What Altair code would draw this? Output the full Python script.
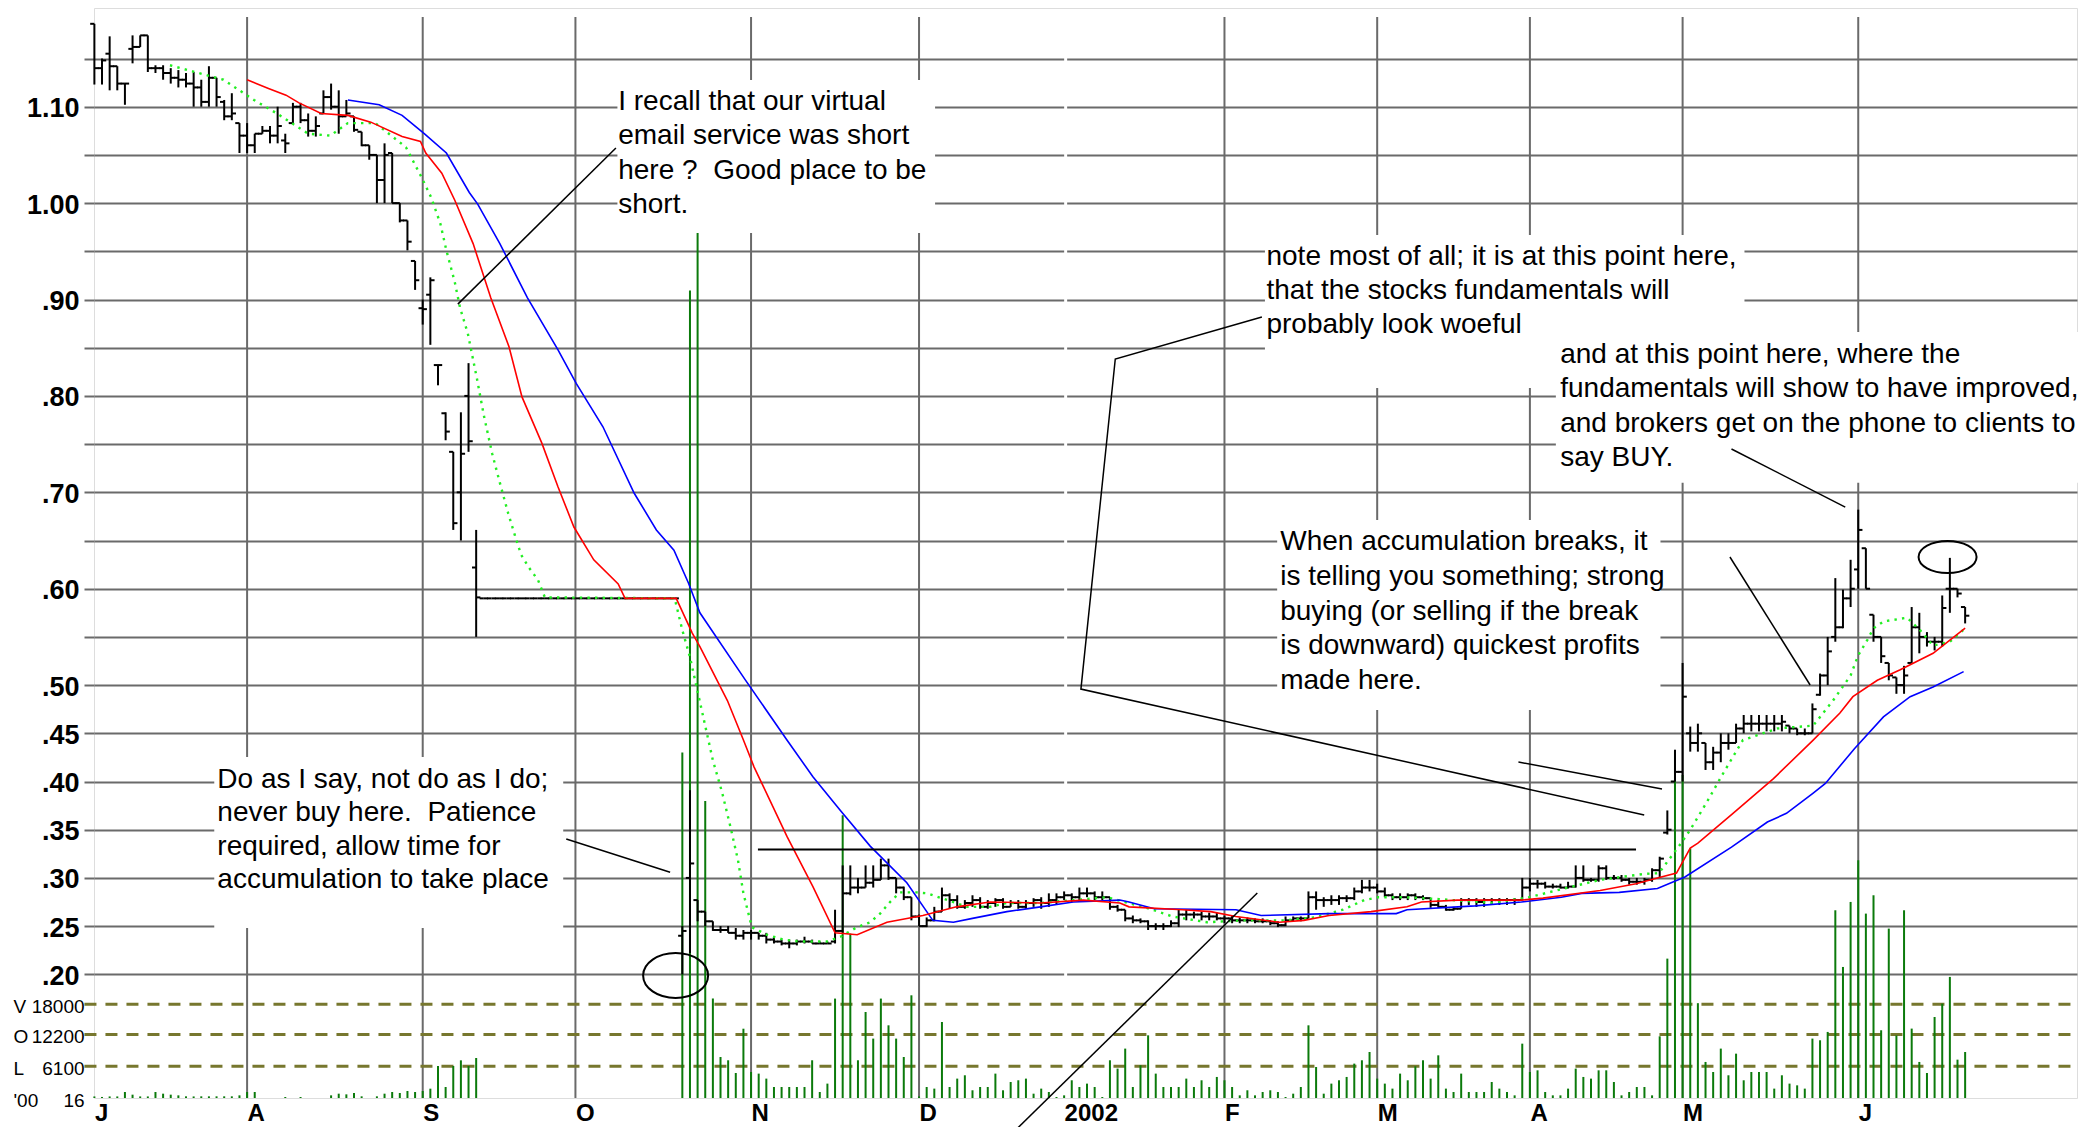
import altair as alt
import pandas as pd

FONT = "Liberation Sans"
GRID = "#6a6a6a"

# ---------------- data ----------------
# trading-day index 0 = first bar (early July 2001)
halted = [0.59, 0.59, 0.59, 0.59, 0.59, 0.59, 0.59, 0.59, 0.59, 0.59, 0.59, 0.59, 0.59,
          0.59, 0.59, 0.59, 0.59, 0.59, 0.59, 0.59, 0.59, 0.59, 0.59, 0.59, 0.59, 0.59]
halted_vol = [0, 0, 0, 0, 0, 0, 0, 0, 0, 0, 0, 0, 0, 0, 0, 0, 0, 0, 0, 0, 0, 0, 0, 0, 0, 0]

open_a = [1.186, 1.140, 1.155, 1.142, 1.124, 1.160, 1.162, 1.174, 1.140, 1.140,
          1.135, 1.130, 1.128, 1.124, 1.120, 1.105, 1.130, 1.105, 1.090, 1.083,
          1.070, 1.060, 1.072, 1.075, 1.070, 1.065, 1.083, 1.100, 1.086, 1.075,
          1.093, 1.110, 1.100, 1.090, 1.090, 1.074, 1.060, 1.050, 1.024, 1.052,
          1.000, 0.982, 0.940, 0.891, 0.905, 0.832, 0.782, 0.742, 0.700, 0.800,
          0.622]
open_b = [0.240, 0.300, 0.277, 0.265, 0.255, 0.246, 0.246, 0.243, 0.240, 0.243,
          0.243, 0.240, 0.236, 0.234, 0.232, 0.232, 0.234, 0.234, 0.232, 0.232,
          0.234, 0.245, 0.284, 0.290, 0.290, 0.295, 0.298, 0.313, 0.300, 0.290,
          0.280, 0.260, 0.250, 0.256, 0.265, 0.282, 0.277, 0.270, 0.274, 0.277,
          0.270, 0.274, 0.277, 0.270, 0.274, 0.270, 0.274, 0.277, 0.274, 0.277,
          0.280, 0.282, 0.280, 0.284, 0.284, 0.280, 0.280, 0.270, 0.267, 0.258,
          0.256, 0.255, 0.250, 0.250, 0.250, 0.253, 0.262, 0.262, 0.262, 0.260,
          0.260, 0.258, 0.258, 0.256, 0.256, 0.256, 0.255, 0.255, 0.253, 0.251,
          0.256, 0.258, 0.258, 0.280, 0.277, 0.277, 0.277, 0.279, 0.279, 0.286,
          0.290, 0.290, 0.286, 0.282, 0.280, 0.280, 0.282, 0.280, 0.279, 0.272,
          0.270, 0.267, 0.268, 0.277, 0.277, 0.275, 0.277, 0.277, 0.277, 0.277,
          0.277, 0.290, 0.294, 0.294, 0.291, 0.291, 0.290, 0.291, 0.300, 0.298,
          0.298, 0.310, 0.300, 0.300, 0.298, 0.296, 0.296, 0.298, 0.308, 0.347,
          0.400, 0.410, 0.450, 0.440, 0.440, 0.420, 0.430, 0.440, 0.440, 0.455,
          0.460, 0.460, 0.460, 0.460, 0.460, 0.458, 0.455, 0.450, 0.450, 0.490,
          0.510, 0.550, 0.560, 0.590, 0.620, 0.642, 0.573, 0.550, 0.523, 0.508,
          0.500, 0.523, 0.560, 0.550, 0.545, 0.545, 0.600, 0.600, 0.581]

high_a = [1.186, 1.150, 1.173, 1.142, 1.124, 1.174, 1.174, 1.174, 1.143, 1.143,
          1.140, 1.138, 1.135, 1.136, 1.128, 1.142, 1.130, 1.107, 1.114, 1.083,
          1.083, 1.072, 1.080, 1.080, 1.100, 1.072, 1.104, 1.104, 1.093, 1.090,
          1.117, 1.124, 1.117, 1.107, 1.090, 1.074, 1.060, 1.050, 1.062, 1.052,
          1.000, 0.982, 0.940, 0.900, 0.923, 0.832, 0.783, 0.742, 0.783, 0.834,
          0.661]
high_b = [0.250, 0.391, 0.277, 0.265, 0.255, 0.250, 0.250, 0.248, 0.246, 0.246,
          0.243, 0.243, 0.239, 0.236, 0.236, 0.236, 0.239, 0.236, 0.234, 0.234,
          0.267, 0.313, 0.313, 0.300, 0.313, 0.313, 0.320, 0.320, 0.300, 0.291,
          0.280, 0.262, 0.259, 0.270, 0.290, 0.284, 0.282, 0.277, 0.282, 0.280,
          0.277, 0.279, 0.279, 0.277, 0.277, 0.277, 0.279, 0.280, 0.284, 0.284,
          0.286, 0.284, 0.290, 0.290, 0.286, 0.286, 0.280, 0.272, 0.267, 0.261,
          0.258, 0.256, 0.253, 0.253, 0.256, 0.267, 0.267, 0.265, 0.265, 0.264,
          0.264, 0.261, 0.261, 0.259, 0.259, 0.258, 0.258, 0.256, 0.255, 0.260,
          0.260, 0.260, 0.286, 0.286, 0.280, 0.282, 0.282, 0.282, 0.290, 0.298,
          0.298, 0.294, 0.290, 0.284, 0.284, 0.284, 0.284, 0.282, 0.279, 0.277,
          0.272, 0.270, 0.279, 0.279, 0.279, 0.279, 0.279, 0.279, 0.279, 0.279,
          0.300, 0.300, 0.298, 0.296, 0.294, 0.294, 0.296, 0.313, 0.313, 0.300,
          0.313, 0.313, 0.303, 0.303, 0.300, 0.300, 0.300, 0.310, 0.322, 0.370,
          0.433, 0.523, 0.457, 0.460, 0.440, 0.436, 0.450, 0.450, 0.460, 0.469,
          0.469, 0.469, 0.469, 0.469, 0.469, 0.458, 0.455, 0.455, 0.481, 0.512,
          0.550, 0.611, 0.599, 0.630, 0.682, 0.642, 0.573, 0.550, 0.523, 0.508,
          0.520, 0.581, 0.575, 0.555, 0.550, 0.593, 0.632, 0.600, 0.581]

low_a = [1.123, 1.123, 1.117, 1.117, 1.102, 1.145, 1.162, 1.136, 1.135, 1.128,
         1.124, 1.120, 1.120, 1.100, 1.100, 1.100, 1.100, 1.086, 1.086, 1.052,
         1.052, 1.052, 1.072, 1.062, 1.062, 1.052, 1.083, 1.083, 1.069, 1.069,
         1.093, 1.097, 1.072, 1.090, 1.074, 1.059, 1.045, 1.000, 1.000, 1.000,
         0.980, 0.951, 0.910, 0.874, 0.853, 0.811, 0.754, 0.661, 0.650, 0.742,
         0.550]
low_b = [0.200, 0.222, 0.255, 0.250, 0.245, 0.243, 0.243, 0.236, 0.236, 0.236,
         0.236, 0.232, 0.232, 0.230, 0.227, 0.230, 0.232, 0.232, 0.232, 0.232,
         0.232, 0.243, 0.282, 0.284, 0.290, 0.290, 0.298, 0.298, 0.284, 0.277,
         0.256, 0.250, 0.249, 0.255, 0.265, 0.268, 0.268, 0.268, 0.270, 0.268,
         0.268, 0.270, 0.268, 0.270, 0.268, 0.268, 0.270, 0.268, 0.270, 0.272,
         0.277, 0.275, 0.277, 0.280, 0.277, 0.277, 0.267, 0.265, 0.255, 0.253,
         0.253, 0.246, 0.246, 0.246, 0.249, 0.249, 0.256, 0.258, 0.256, 0.256,
         0.256, 0.253, 0.253, 0.253, 0.253, 0.253, 0.253, 0.251, 0.249, 0.250,
         0.255, 0.255, 0.258, 0.267, 0.270, 0.272, 0.272, 0.275, 0.277, 0.284,
         0.286, 0.284, 0.280, 0.277, 0.277, 0.277, 0.277, 0.277, 0.269, 0.269,
         0.266, 0.266, 0.268, 0.272, 0.270, 0.270, 0.272, 0.272, 0.272, 0.272,
         0.277, 0.286, 0.289, 0.289, 0.289, 0.289, 0.289, 0.290, 0.296, 0.296,
         0.296, 0.298, 0.298, 0.296, 0.293, 0.293, 0.293, 0.296, 0.301, 0.345,
         0.400, 0.400, 0.431, 0.431, 0.412, 0.412, 0.420, 0.433, 0.440, 0.450,
         0.452, 0.452, 0.452, 0.452, 0.452, 0.450, 0.448, 0.448, 0.450, 0.489,
         0.500, 0.545, 0.559, 0.581, 0.600, 0.600, 0.545, 0.523, 0.505, 0.491,
         0.491, 0.523, 0.533, 0.540, 0.536, 0.540, 0.575, 0.591, 0.564]

close_a = [1.140, 1.148, 1.142, 1.124, 1.124, 1.162, 1.174, 1.140, 1.140, 1.135,
           1.130, 1.128, 1.124, 1.120, 1.105, 1.130, 1.110, 1.090, 1.093, 1.070,
           1.060, 1.072, 1.075, 1.070, 1.080, 1.062, 1.100, 1.086, 1.075, 1.080,
           1.110, 1.100, 1.090, 1.093, 1.076, 1.060, 1.050, 1.024, 1.050, 1.000,
           0.982, 0.960, 0.920, 0.890, 0.920, 0.832, 0.763, 0.668, 0.740, 0.753,
           0.591]
close_b = [0.245, 0.315, 0.265, 0.255, 0.246, 0.246, 0.243, 0.240, 0.243, 0.243,
           0.240, 0.236, 0.234, 0.232, 0.232, 0.234, 0.234, 0.232, 0.232, 0.232,
           0.245, 0.284, 0.290, 0.290, 0.295, 0.298, 0.313, 0.300, 0.290, 0.280,
           0.260, 0.250, 0.256, 0.265, 0.282, 0.277, 0.270, 0.274, 0.277, 0.270,
           0.274, 0.277, 0.270, 0.274, 0.270, 0.274, 0.277, 0.274, 0.277, 0.280,
           0.282, 0.280, 0.284, 0.284, 0.280, 0.280, 0.270, 0.267, 0.258, 0.256,
           0.255, 0.250, 0.250, 0.250, 0.253, 0.262, 0.262, 0.262, 0.260, 0.260,
           0.258, 0.258, 0.256, 0.256, 0.256, 0.255, 0.255, 0.253, 0.251, 0.256,
           0.258, 0.258, 0.280, 0.277, 0.277, 0.277, 0.279, 0.279, 0.286, 0.290,
           0.290, 0.286, 0.282, 0.280, 0.280, 0.282, 0.280, 0.279, 0.272, 0.270,
           0.267, 0.268, 0.277, 0.277, 0.275, 0.277, 0.277, 0.277, 0.277, 0.277,
           0.290, 0.294, 0.294, 0.291, 0.291, 0.290, 0.291, 0.300, 0.298, 0.298,
           0.310, 0.300, 0.300, 0.298, 0.296, 0.296, 0.298, 0.308, 0.320, 0.350,
           0.410, 0.488, 0.440, 0.450, 0.420, 0.430, 0.440, 0.440, 0.455, 0.460,
           0.460, 0.460, 0.460, 0.460, 0.462, 0.455, 0.450, 0.450, 0.475, 0.510,
           0.535, 0.560, 0.590, 0.600, 0.661, 0.600, 0.550, 0.530, 0.510, 0.500,
           0.510, 0.560, 0.550, 0.545, 0.545, 0.580, 0.600, 0.595, 0.572]

vol_a = [300, 200, 300, 300, 1150, 640, 300, 300, 1150, 830,
         640, 510, 320, 300, 320, 320, 320, 320, 320, 510,
         1150, 1150, 0, 0, 0, 190, 0, 190, 0, 0,
         0, 510, 830, 700, 960, 320, 0, 320, 830, 1150,
         960, 1340, 1150, 1340, 1790, 6140, 2110, 6140, 7230, 6140,
         7680]
vol_b = [66300, 155000, 166000, 57000, 19100, 7870, 7240, 4800, 13300, 4990,
         4680, 3720, 2110, 2110, 2110, 2110, 2110, 7240, 1150, 2760,
         19080, 54260, 31550, 7240, 16510, 11400, 19080, 13950, 11400, 7870,
         19710, 300, 2110, 1800, 14590, 2110, 3720, 4360, 1480, 2110,
         2110, 4680, 1480, 3070, 3400, 3720, 830, 1800, 1150, 190,
         510, 3400, 2110, 2760, 2110, 190, 7240, 5640, 9480, 2110,
         6280, 12030, 4680, 2110, 2110, 2110, 3720, 2110, 3400, 2110,
         4040, 3400, 2110, 510, 1480, 510, 1150, 1480, 1150, 190,
         830, 2110, 13950, 5950, 830, 2760, 3400, 4040, 6600, 7240,
         8830, 3720, 2760, 1800, 4680, 3400, 6080, 7240, 3720, 8190,
         1800, 1150, 4680, 1150, 1150, 1150, 3070, 1800, 1150, 510,
         10430, 4990, 5310, 1150, 510, 510, 1800, 5640, 4040, 3720,
         5310, 5310, 3070, 510, 1150, 2110, 2110, 510, 11840, 26750,
         66700, 62000, 47900, 18200, 6920, 4990, 9480, 4360, 8510, 3400,
         4990, 4990, 4990, 1800, 4360, 2760, 2430, 1800, 11400, 11080,
         12680, 36030, 25150, 37630, 45630, 35390, 38910, 13000, 32510, 12000,
         36030, 13320, 6920, 4800, 15550, 18100, 23240, 7360, 8830]

open_ = open_a + halted + open_b
high = high_a + halted + high_b
low = low_a + halted + low_b
close = close_a + halted + close_b
volume = vol_a + halted_vol + vol_b
days = list(range(len(close)))

red_day = [20, 22.8, 25.1, 26.8, 29.7, 33.2, 36.2, 40.3, 42.7, 43.4, 45.5, 47.2, 49.6, 51.9,
           54.3, 56.0, 58.6, 60.7, 62.8, 65.4, 68.6, 69.5, 76.2, 78.3, 79.3, 82.9, 85, 86.4,
           90.7, 94.1, 97, 99.9, 103.8, 108.5, 112.9, 117.3, 123.9, 129.5, 134.3, 135.5,
           142.5, 146.2, 149.5, 155.2, 158.4, 161.7, 167.2, 171.9, 173.8, 178.5, 186.9,
           189.7, 197.2, 201.9, 204.7, 207.2, 209, 210, 214.6, 219.9, 225.1, 228.6, 230.3,
           233.5, 236.5, 240.8, 245]
red_val = [1.128, 1.119, 1.112, 1.104, 1.093, 1.091, 1.084, 1.069, 1.064, 1.052, 1.031, 1.003,
           0.958, 0.902, 0.851, 0.799, 0.751, 0.706, 0.664, 0.630, 0.605, 0.590, 0.590, 0.554,
           0.540, 0.484, 0.443, 0.415, 0.343, 0.291, 0.243, 0.241, 0.254, 0.261, 0.270, 0.275,
           0.274, 0.277, 0.274, 0.270, 0.267, 0.265, 0.260, 0.254, 0.256, 0.261, 0.265, 0.270,
           0.275, 0.277, 0.277, 0.279, 0.287, 0.294, 0.300, 0.305, 0.331, 0.336, 0.367, 0.403,
           0.443, 0.471, 0.488, 0.505, 0.516, 0.533, 0.559]

blue_day = [33.2, 37.3, 40.3, 43.2, 46.1, 49.1, 50.2, 53.1, 56.7, 60.7, 63.1, 66.6, 70.7, 73.6,
            75.9, 77.8, 79.3, 85.2, 90.7, 94.1, 97.7, 101.6, 106.4, 109.8, 112.5, 115, 119.5,
            123.9, 128.2, 134.3, 135.5, 138.8, 149.5, 152.8, 161.7, 170.5, 171.9, 180.8, 186.9,
            192.1, 194.8, 199.7, 204.7, 208.3, 214.4, 219.1, 221.6, 225.1, 226.7, 230.5, 234.3,
            237.8, 240.8, 244.8]
blue_val = [1.107, 1.102, 1.091, 1.072, 1.052, 1.011, 0.999, 0.958, 0.902, 0.848, 0.813, 0.768,
            0.699, 0.661, 0.640, 0.606, 0.575, 0.506, 0.443, 0.405, 0.370, 0.333, 0.295, 0.256,
            0.254, 0.258, 0.265, 0.270, 0.275, 0.277, 0.275, 0.268, 0.267, 0.261, 0.263, 0.263,
            0.267, 0.271, 0.275, 0.280, 0.284, 0.285, 0.289, 0.301, 0.332, 0.358, 0.367, 0.388,
            0.398, 0.434, 0.467, 0.488, 0.498, 0.514]

green_day = [9.9, 16.9, 20.9, 23.9, 28, 30.9, 33.2, 36.8, 40.8, 42.9, 44.1, 45.3, 46.1, 47.2,
             47.9, 48.9, 50.1, 51, 52.1, 53.1, 54.2, 55.2, 55.9, 56.9, 58.1, 59, 76, 77, 78, 81,
             82.2, 83.3, 84.3, 85, 86.1, 88.1, 90.2, 92.4, 95.9, 97.7, 99.9, 101.6, 102.9, 104.2,
             105.5, 107.7, 109.1, 111.7, 114.3, 117.3, 119.5, 123.9, 128.2, 132.6, 138.2, 141.2,
             145.7, 150.5, 156, 159.8, 163.5, 166.3, 168.2, 171.5, 176.1, 183.2, 187.9, 192.5,
             197.2, 202.8, 204.9, 207.8, 209, 211.2, 213.2, 215.9, 220.4, 225.1, 227.7, 230, 231,
             232.2, 233, 234.3, 237.4, 239.1, 240.8, 243, 245]
green_val = [1.143, 1.128, 1.107, 1.093, 1.072, 1.070, 1.083, 1.083, 1.058, 1.026, 1.006, 0.979,
             0.951, 0.918, 0.891, 0.865, 0.818, 0.780, 0.740, 0.710, 0.678, 0.652, 0.635, 0.622,
             0.609, 0.591, 0.590, 0.557, 0.529, 0.422, 0.389, 0.353, 0.318, 0.284, 0.249, 0.241,
             0.236, 0.234, 0.234, 0.239, 0.249, 0.254, 0.263, 0.275, 0.285, 0.285, 0.284, 0.277,
             0.270, 0.270, 0.274, 0.274, 0.277, 0.280, 0.268, 0.260, 0.254, 0.256, 0.256, 0.259,
             0.267, 0.277, 0.280, 0.280, 0.278, 0.274, 0.280, 0.289, 0.298, 0.304, 0.305, 0.336,
             0.350, 0.379, 0.407, 0.443, 0.455, 0.458, 0.484, 0.510, 0.531, 0.547, 0.559, 0.566,
             0.570, 0.557, 0.541, 0.545, 0.559]

month_day = [0, 20, 43, 63, 86, 108, 127, 148, 168, 188, 208, 231]
month_label = ["J", "A", "S", "O", "N", "D", "2002", "F", "M", "A", "M", "J"]
grid_day = [20, 43, 63, 86, 108, 148, 168, 188, 208, 231]
price_ticks = [0.20, 0.25, 0.30, 0.35, 0.40, 0.45, 0.50, 0.55, 0.60, 0.65, 0.70, 0.75,
               0.80, 0.85, 0.90, 0.95, 1.00, 1.05, 1.10, 1.15]
price_labelled = ["1.10", "1.00", "0.90", "0.80", "0.70", "0.60", "0.50", "0.45",
                  "0.40", "0.35", "0.30", "0.25", "0.20"]
vol_levels = [18000, 12200, 6100, 16]
vol_letters = ["V", "O", "L", "'00"]
vol_numbers = ["18000", "12200", "6100", "16"]
vol_dash_levels = [6100, 12200, 18000]

NB = "\u00a0"
note1 = ["I recall that our virtual", "email service was short",
         "here ?" + NB + " Good place to be", "short."]
note2 = ["Do as I say, not do as I do;", "never buy here." + NB + " Patience",
         "required, allow time for", "accumulation to take place"]
note3 = ["note most of all; it is at this point here,", "that the stocks fundamentals will",
         "probably look woeful"]
note4 = ["and at this point here, where the", "fundamentals will show to have improved,",
         "and brokers get on the phone to clients to", "say BUY."]
note5 = ["When accumulation breaks, it", "is telling you something; strong",
         "buying (or selling if the break", "is downward) quickest profits", "made here."]

# ---------------- scales & axes ----------------
X = alt.Scale(domain=[-0.05, 259.65], nice=False, zero=False)
YP = alt.Scale(domain=[0.0717, 1.2024], nice=False, zero=False)
YV = alt.Scale(domain=[0, 209200], nice=False, zero=False)

ylabel_expr = ("indexof([" + ",".join("'%s'" % s for s in price_labelled) + "], format(datum.value, '.2f')) < 0 ? '' : "
               "(datum.value >= 1 ? format(datum.value, '.2f') : replace(format(datum.value, '.2f'), '0.', '.'))")
xlabel_expr = ("[" + ",".join("'%s'" % s for s in month_label) + "][indexof(["
               + ",".join(str(d) for d in month_day) + "], datum.value)]")

XAX = alt.Axis(values=month_day, labelExpr=xlabel_expr, ticks=False, domain=False, grid=False,
               labelAlign="left", labelBaseline="top", labelPadding=3, labelFont=FONT,
               labelFontSize=24, labelFontWeight="bold", labelColor="black", labelFlush=False,
               labelOverlap=False, title=None)
YAX = alt.Axis(values=price_ticks, labelExpr=ylabel_expr, grid=True, gridColor=GRID, gridWidth=2,
               ticks=True, tickColor=GRID, tickWidth=2, tickSize=10, domain=False, labelFont=FONT,
               labelFontSize=27, labelFontWeight="bold", labelColor="black", labelPadding=5,
               labelOffset=2, labelOverlap=False, labelFlush=False, title=None, orient="left")
YNONE = alt.Axis(labels=False, ticks=False, grid=False, domain=False, title=None, orient="left")


def xq(f):
    return alt.X(f, type="quantitative", scale=X, axis=XAX)


def xd(v):
    return alt.XDatum(v, type="quantitative", scale=X, axis=XAX)


def yb(f):
    return alt.Y(f, type="quantitative", scale=YP, axis=YAX)


def ybd(v):
    return alt.YDatum(v, type="quantitative", scale=YP, axis=YAX)


def yp(f):
    return alt.Y(f, type="quantitative", scale=YP, axis=YNONE)


def ypd(v):
    return alt.YDatum(v, type="quantitative", scale=YP, axis=YNONE)


def yv(f):
    return alt.Y(f, type="quantitative", scale=YV, axis=YNONE)


one = pd.DataFrame({"k": [0]})

# ---------------- back price layer: grid + axes ----------------
vgrid = alt.Chart(pd.DataFrame({"d": grid_day})).transform_calculate(
    top="1.193", bot="0.0717"
).mark_rule(color=GRID, strokeWidth=2).encode(x=xq("d"), y=yb("top"), y2="bot:Q")
jan_gap = alt.Chart(one).mark_rule(color="white", strokeWidth=3).encode(
    x=xd(127.2), y=ybd(1.16), y2=alt.datum(0.19))
price_back = alt.layer(vgrid, jan_gap)

# ---------------- volume layer ----------------
vol_df = pd.DataFrame({"d": days, "v": volume})
dashes = alt.Chart(pd.DataFrame({"v": vol_dash_levels})).mark_rule(
    color="#77772e", strokeWidth=3, strokeDash=[12, 9]).encode(
    x=xd(-1.3), x2=alt.datum(259.65), y=yv("v"))
vol_bars = alt.Chart(vol_df).transform_filter("datum.v > 0").mark_rule(
    color="#0b7a0b", strokeWidth=2).encode(x=xq("d"), y=yv("v"), y2=alt.datum(0))
vlab_df = pd.DataFrame({"v": vol_levels, "letter": vol_letters, "num": vol_numbers})
vlab_l = alt.Chart(vlab_df).mark_text(align="left", baseline="middle", font=FONT, fontSize=19,
                                       dy=3, color="black").encode(
    x=xd(-10.6), y=yv("v"), text="letter:N")
vlab_n = alt.Chart(vlab_df).mark_text(align="right", baseline="middle", font=FONT, fontSize=19,
                                       dy=3, color="black").encode(
    x=xd(-1.29), y=yv("v"), text="num:N")
vol_group = alt.layer(dashes, vol_bars, vlab_l, vlab_n)

# ---------------- front price layer ----------------
box_df = pd.DataFrame({
    "x1": [68.5, 15.7, 153.3, 191.4, 154.9],
    "x2": [110.1, 61.4, 216.1, 260.9, 205.1],
    "y1": [1.1277, 0.4254, 0.9669, 0.8664, 0.6713],
    "y2": [0.9690, 0.2480, 0.8082, 0.7098, 0.4742],
})
boxes = alt.Chart(box_df).mark_rect(color="white", opacity=1).encode(
    x=xq("x1"), x2="x2", y=yp("y1"), y2="y2")

pdf = pd.DataFrame({"d": days, "o": open_, "h": high, "l": low, "c": close})
base = alt.Chart(pdf)
hl = base.mark_rule(color="black", strokeWidth=2).encode(x=xq("d"), y=yp("l"), y2="h")
otick = base.transform_calculate(dl="datum.d - 0.55").mark_rule(color="black", strokeWidth=2).encode(
    x=xq("dl"), x2="d", y=yp("o"))
ctick = base.transform_calculate(dr="datum.d + 0.55").mark_rule(color="black", strokeWidth=2).encode(
    x=xq("d"), x2="dr", y=yp("c"))


def ma_line(dd, vv, **kw):
    return alt.Chart(pd.DataFrame({"d": dd, "v": vv})).mark_line(**kw).encode(x=xq("d"), y=yp("v"))


green = ma_line(green_day, green_val, color="#22ee22", strokeWidth=2.4, strokeDash=[2.4, 5.2])
blue = ma_line(blue_day, blue_val, color="#0000ff", strokeWidth=1.6)
red = ma_line(red_day, red_val, color="#ff0000", strokeWidth=1.6)

resist = alt.Chart(one).mark_rule(color="black", strokeWidth=2.2).encode(
    x=xd(86.9), x2=alt.datum(201.9), y=ypd(0.3295))

lead_df = pd.DataFrame({
    "seg": ["a", "a", "b", "b", "c", "c", "c", "c", "d", "d", "e", "e", "f", "f", "g", "g"],
    "k":   [0, 1, 0, 1, 0, 1, 2, 3, 0, 1, 0, 1, 0, 1, 0, 1],
    "d":   [68.3, 47.6, 61.8, 75.4, 152.9, 133.7, 129.2, 202.97, 186.5, 205.3, 214.4, 229.3,
            214.2, 224.7, 119.7, 152.3],
    "p":   [1.0572, 0.8952, 0.3404, 0.3059, 0.8818, 0.8383, 0.4959, 0.3652, 0.4202, 0.3922,
            0.7449, 0.6847, 0.6329, 0.5001, 0.0311, 0.2843],
})
leaders = alt.Chart(lead_df).mark_line(color="black", strokeWidth=1.5).encode(
    x=xq("d"), y=yp("p"), detail="seg:N", order="k:Q")

ell1 = alt.Chart(one).mark_point(
    shape="M -1 0 A 1 0.692 0 1 1 1 0 A 1 0.692 0 1 1 -1 0 Z", size=4225, filled=False,
    color="black", strokeWidth=2, opacity=1).encode(x=xd(76.12), y=ypd(0.1988))
ell2 = alt.Chart(one).mark_point(
    shape="M -1 0 A 1 0.552 0 1 1 1 0 A 1 0.552 0 1 1 -1 0 Z", size=3364, filled=False,
    color="black", strokeWidth=2, opacity=1).encode(x=xd(242.7), y=ypd(0.6329))


def note(x, y, lines, lh):
    return alt.Chart(one).mark_text(text=lines, align="left", baseline="top", font=FONT,
                                    fontSize=28, lineHeight=lh, color="black").encode(
        x=xd(x), y=ypd(y))


n1 = note(68.6, 1.1194, note1, 34.4)
n2 = note(16.1, 0.4161, note2, 33.5)
n3 = note(153.5, 0.9586, note3, 34.0)
n4 = note(191.97, 0.8570, note4, 34.3)
n5 = note(155.3, 0.6630, note5, 34.8)

price_front = alt.layer(boxes, hl, otick, ctick, green, blue, red, resist, leaders,
                        ell1, ell2, n1, n2, n3, n4, n5)

chart = alt.layer(price_back, vol_group, price_front).resolve_scale(
    y="independent"
).properties(
    width=1983, height=1090,
    autosize=alt.AutoSizeParams(type="none"),
    padding={"left": 86, "top": 0, "right": 2, "bottom": 29},
).configure_view(
    stroke="#a8a8a8", strokeWidth=2
).configure(background="white")

chart.save("out.html", embed_options={"renderer": "svg", "actions": False})
